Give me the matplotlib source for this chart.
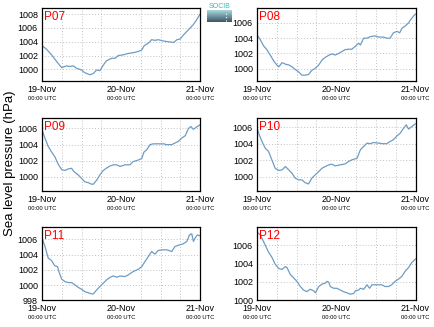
import numpy as np
import matplotlib
matplotlib.use("Agg")
import matplotlib.pyplot as plt
from matplotlib.colors import LinearSegmentedColormap

plt.rcParams['font.family'] = ['Liberation Sans', 'DejaVu Sans']

# ---- data (hours since 19-Nov 00:00 UTC, pressure hPa) ----
p07_t = [0, 1.4, 2.9, 4.5, 5.5, 6, 7.5, 8.5, 9.5, 10.5, 12, 13, 14.6, 15.6, 16.6, 17.6, 18.6, 19.6, 21.2, 22.2,
         23.2, 24.7, 26.2, 27.7, 29.3, 30.3, 31, 32.3, 33.3, 34.3, 35.3, 36.9, 38.4, 40, 41, 42, 43, 44, 45, 46, 47, 48]
p07_v = [1003.45, 1002.9, 1002.1, 1001.1, 1000.5, 1000.25, 1000.5, 1000.4, 1000.5, 1000.15, 999.9, 999.5, 999.2,
         999.4, 999.9, 999.8, 1000.6, 1001.25, 1001.6, 1001.6, 1002.0, 1002.1, 1002.3, 1002.4, 1002.6, 1002.8,
         1003.4, 1003.8, 1004.3, 1004.2, 1004.3, 1004.1, 1004.0, 1003.9, 1004.3, 1004.4, 1005.0, 1005.5, 1006.0,
         1006.5, 1007.2, 1008.0]

p08_t = [0, 1, 2, 3, 4, 5, 6, 6.6, 7.6, 8.6, 9.6, 10.6, 11.6, 12.6, 13.6, 14.6, 15.6, 16.6, 17.6, 18.7, 19.7,
         20.7, 21.7, 22.7, 23.7, 24.7, 25.7, 26.7, 27.7, 28.7, 29.7, 30.8, 31.3, 32.3, 33.3, 34.3, 35.8, 36.8,
         38.3, 39.3, 40.3, 41.3, 42.4, 43.2, 43.9, 44.9, 45.9, 46.4, 47.4, 48]
p08_v = [1004.45, 1003.8, 1003.0, 1002.5, 1001.8, 1001.06, 1000.5, 1000.26, 1000.8, 1000.6, 1000.5, 1000.26,
         999.9, 999.6, 999.16, 999.16, 999.25, 999.8, 1000.04, 1000.5, 1001.15, 1001.5, 1001.76, 1001.94, 1001.8,
         1002.0, 1002.25, 1002.5, 1002.56, 1002.56, 1002.9, 1003.35, 1003.1, 1004.0, 1004.0, 1004.2, 1004.3,
         1004.15, 1004.15, 1004.0, 1004.0, 1004.7, 1004.9, 1004.7, 1005.3, 1005.6, 1006.0, 1006.35, 1006.9, 1007.15]

p09_t = [0.2, 0.9, 1.9, 2.9, 3.9, 4.9, 6, 7, 8, 9, 9.7, 11, 12, 13, 14, 15.1, 15.6, 16.6, 17.6, 18.6, 19.6, 20.7,
         21.7, 22.7, 23.7, 25.2, 26.7, 27.7, 29.3, 30.3, 31, 31.8, 32.8, 33.8, 35.3, 36.9, 37.9, 39.4, 40.4, 41.4,
         42.4, 43.5, 44.5, 45.2, 46, 47, 48]
p09_v = [1005.63, 1004.8, 1003.77, 1003.1, 1002.5, 1001.6, 1000.9, 1000.8, 1001.0, 1001.07, 1000.66, 1000.25,
         999.83, 999.4, 999.3, 999.1, 999.1, 999.6, 1000.25, 1000.8, 1001.1, 1001.36, 1001.5, 1001.5, 1001.3,
         1001.5, 1001.5, 1001.9, 1002.1, 1002.3, 1003.1, 1003.35, 1004.0, 1004.1, 1004.1, 1004.1, 1004.0, 1004.0,
         1004.2, 1004.4, 1004.8, 1005.1, 1006.0, 1006.25, 1005.9, 1006.2, 1006.45]

p10_t = [0, 0.7, 1.5, 2.5, 3.5, 4.5, 5.5, 6.6, 7.6, 8.6, 9.6, 10.6, 11.6, 12.6, 13.6, 14.6, 15.6, 16.6, 17.6,
         18.7, 19.7, 20.7, 21.7, 22.7, 23.7, 25.2, 26.7, 27.7, 28.7, 30.3, 31.3, 32.3, 33.3, 34.3, 35.3, 36.8,
         38.3, 39.3, 40.3, 41.3, 42.4, 43.4, 44.4, 45.2, 45.9, 46.9, 48]
p10_v = [1005.88, 1005.07, 1004.27, 1003.46, 1003.06, 1002.05, 1001.05, 1000.77, 1000.85, 1001.25, 1000.85,
         1000.44, 999.84, 999.64, 999.64, 999.3, 999.15, 999.84, 1000.24, 1000.64, 1001.05, 1001.25, 1001.45,
         1001.53, 1001.33, 1001.45, 1001.57, 1001.85, 1002.05, 1002.25, 1003.26, 1003.66, 1004.07, 1004.0,
         1004.15, 1004.07, 1004.0, 1004.0, 1004.27, 1004.47, 1004.95, 1005.28, 1005.88, 1006.28, 1005.76,
         1006.08, 1006.4]

p11_t = [0.2, 0.9, 1.9, 2.9, 3.9, 4.7, 5.3, 6, 7, 8, 9, 10, 11, 12, 13, 14, 15.1, 15.6, 16.6, 17.6, 18.6, 19.6,
         20.7, 21.7, 22.7, 23.7, 25.2, 26.2, 27.7, 29.3, 30.3, 31.3, 32.3, 33.3, 34.3, 35.3, 36.4, 37.9, 39.4,
         40.4, 41.9, 42.9, 44, 44.8, 45.5, 46, 46.5, 47.2, 48]
p11_v = [1005.95, 1005.08, 1003.54, 1003.23, 1002.53, 1002.44, 1001.56, 1000.77, 1000.46, 1000.33, 1000.33,
         1000.02, 999.7, 999.45, 999.14, 999.0, 998.84, 998.84, 999.36, 999.8, 1000.24, 1000.68, 1001.03, 1001.2,
         1001.03, 1001.2, 1001.12, 1001.34, 1001.78, 1002.09, 1002.44, 1003.1, 1003.76, 1004.42, 1004.07,
         1004.55, 1004.64, 1004.64, 1004.42, 1005.08, 1005.3, 1005.43, 1005.74, 1006.6, 1006.75, 1005.74,
         1006.17, 1006.6, 1006.48]

p12_t = [0, 0.8, 1.5, 2.5, 3.5, 4.5, 5.5, 6.6, 7.6, 8.6, 9.1, 10.1, 11.1, 12.1, 13.1, 14.1, 15.1, 16.1, 17.1,
         17.7, 18.7, 19.7, 20.7, 21.2, 21.7, 22.2, 23.2, 24.2, 25.2, 26.2, 27.2, 28.2, 29.3, 29.8, 30.8, 31.3,
         32.3, 33.3, 34.1, 34.8, 36.3, 37.8, 38.8, 39.8, 40.8, 41.8, 42.9, 43.9, 44.9, 45.9, 46.9, 48]
p12_v = [1007.43, 1007.2, 1006.75, 1006.0, 1005.25, 1004.69, 1003.94, 1003.45, 1003.37, 1003.67, 1003.56,
         1002.8, 1002.44, 1002.06, 1001.5, 1001.12, 1000.94, 1001.2, 1001.05, 1000.82, 1001.5, 1001.76, 1001.87,
         1002.06, 1001.99, 1001.5, 1001.31, 1001.31, 1001.12, 1000.94, 1000.82, 1000.67, 1000.75, 1001.05,
         1001.12, 1001.31, 1001.2, 1001.69, 1001.31, 1001.69, 1001.69, 1001.69, 1001.5, 1001.5, 1001.69,
         1002.06, 1002.32, 1002.62, 1003.19, 1003.56, 1004.12, 1004.5]

names = ["P07", "P08", "P09", "P10", "P11", "P12"]
series_t = [p07_t, p08_t, p09_t, p10_t, p11_t, p12_t]
series_v = [p07_v, p08_v, p09_v, p10_v, p11_v, p12_v]
ylims = [(998.3, 1008.9), (998.4, 1007.95), (998.26, 1007.3), (998.3, 1007.1), (998.0, 1007.6), (1000.0, 1007.95)]

day_ticks = [0, 24, 48]
day_labels = ["19-Nov", "20-Nov", "21-Nov"]
time_label = "00:00 UTC"

W, H = 434, 327
fig = plt.figure(figsize=(W / 100, H / 100), dpi=100)

lefts = [42, 257]
widths = [158, 158.5]
tops = [8, 118, 227.3]
ax_h = 73

line_color = "#6f9cc4"

for i in range(6):
    r, c = divmod(i, 2)
    x0 = lefts[c] / W
    y0 = 1 - (tops[r] + ax_h) / H
    ax = fig.add_axes([x0, y0, widths[c] / W, ax_h / H])
    ax.plot(series_t[i], series_v[i], color=line_color, lw=0.9)
    ax.set_xlim(0, 48)
    ax.set_yticks(np.arange(998, 1010, 2))
    ax.set_ylim(*ylims[i])
    ax.set_xticks(day_ticks)
    ax.set_xticklabels(day_labels)
    ax.set_xticks(np.arange(0, 49, 6), minor=True)
    ax.tick_params(which="both", length=0, labelsize=6.5, pad=3, colors="black")
    ax.grid(True, which="minor", axis="x", color="#c0c0c0", ls=(0, (1, 2)), lw=0.7)
    ax.grid(True, which="major", axis="y", color="#c0c0c0", ls=(0, (1, 2)), lw=0.7)
    for sp in ax.spines.values():
        sp.set_linewidth(0.9)
        sp.set_color("black")
    for xt in day_ticks:
        ax.text(xt, -0.24, time_label, transform=ax.get_xaxis_transform(),
                ha="center", va="center", fontsize=4.2, color="black")
    ax.text(0.015, 0.96, names[i], transform=ax.transAxes, ha="left", va="top",
            fontsize=8.5, color="#ff0000")

fig.text(0.024, 0.5, "Sea level pressure (hPa)", rotation=90, ha="center", va="center", fontsize=9.5)

# small logo
lax = fig.add_axes([207 / W, 1 - 22 / H, 25 / W, 12 / H])
grad = np.linspace(0, 1, 50).reshape(-1, 1)
cm = LinearSegmentedColormap.from_list("lg", ["#a8d8e0", "#3d5566"])
lax.imshow(grad, aspect="auto", cmap=cm, extent=(0, 1, 0, 1))
lax.plot([0.75, 0.75], [0.1, 0.9], color="white", ls=(0, (1, 2)), lw=0.8)
lax.set_xlim(0, 1)
lax.set_ylim(0, 1)
lax.axis("off")
fig.text(219.5 / W, 1 - 7 / H, "SOCIB", ha="center", va="center", fontsize=5, color="#35b8d0")

fig.savefig("out.png", dpi=100)
